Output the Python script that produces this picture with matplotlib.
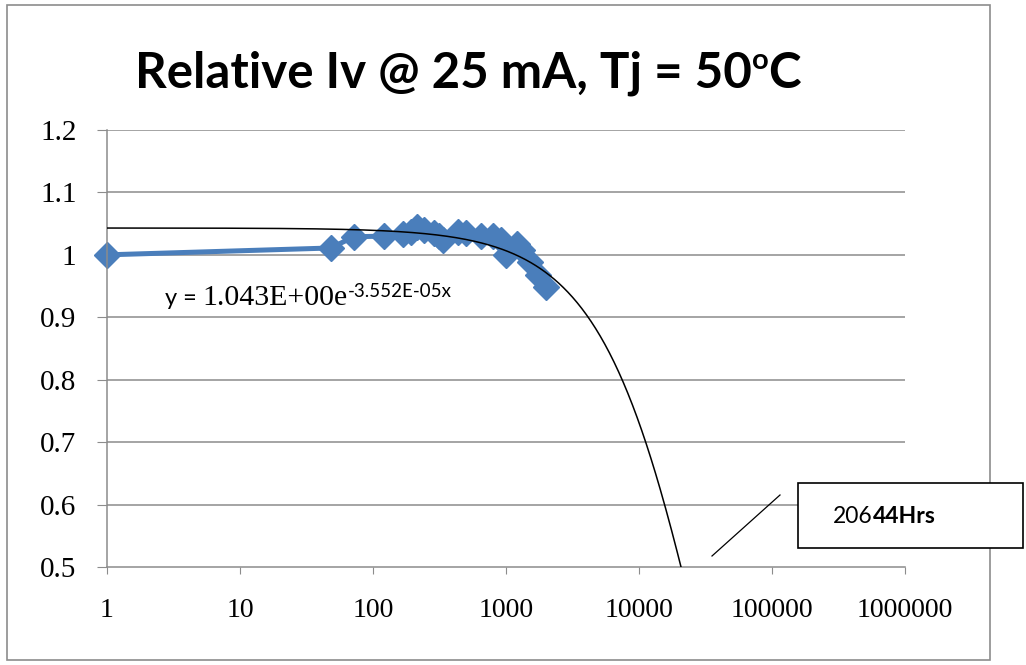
import numpy as np
import matplotlib
matplotlib.use("Agg")
from matplotlib import pyplot as plt
from matplotlib.transforms import IdentityTransform
from matplotlib.patches import Rectangle

# test data
hours = [1, 48, 72, 120, 168, 192, 216, 240, 288, 312, 336, 432, 504, 648,
         792, 912, 1008, 1200, 1320, 1512, 1752, 2016]
rel_iv = [1.000, 1.011, 1.029, 1.030, 1.034, 1.037, 1.044, 1.040, 1.035, 1.030,
          1.024, 1.037, 1.035, 1.031, 1.030, 1.024, 1.000, 1.018, 1.008, 0.989,
          0.968, 0.949]

# exponential trend as printed on the chart
fit_a = 1.043
fit_b = -3.552e-05
l70_hours = 20644

x_ticks = [1, 10, 100, 1000, 10000, 100000, 1000000]
x_labels = ["1", "10", "100", "1000", "10000", "100000", "1000000"]
y_ticks = [0.5, 0.6, 0.7, 0.8, 0.9, 1.0, 1.1, 1.2]
y_labels = ["0.5", "0.6", "0.7", "0.8", "0.9", "1", "1.1", "1.2"]

blue = "#4A7EBB"
grey = "#8C8C8C"

fig = plt.figure(figsize=(10.26, 6.65), dpi=100)
fig.patches.append(Rectangle((7, 5), 983, 655, transform=IdentityTransform(),
                             fill=False, edgecolor=grey, lw=1.2))

ax = fig.add_axes([107 / 1026, 1 - 567 / 665, (905 - 107) / 1026, (567 - 130) / 665])
ax.set_xscale("log")
ax.set_xlim(1, 1e6)
ax.set_ylim(0.5, 1.2)

for yv in y_ticks[1:]:
    ax.axhline(yv, color=grey, lw=1.1, zorder=0)

xs = np.logspace(0, np.log10(l70_hours * 1.02), 500)
ax.plot(xs, fit_a * np.exp(fit_b * xs), color="black", lw=1.1, zorder=3)
ax.plot(hours, rel_iv, color=blue, lw=3.6, marker="D", markersize=13,
        markeredgecolor=blue, zorder=2, clip_on=False)

ax.set_xticks(x_ticks)
ax.set_xticklabels(x_labels)
ax.minorticks_off()
ax.set_yticks(y_ticks)
ax.set_yticklabels(y_labels)
for s in ["top", "right"]:
    ax.spines[s].set_visible(False)
for s in ["left", "bottom"]:
    ax.spines[s].set_color(grey)
    ax.spines[s].set_linewidth(1.1)
ax.tick_params(axis="y", direction="out", length=7, color=grey, pad=15,
               labelsize=21)
ax.tick_params(axis="x", direction="out", length=5, color=grey, pad=17,
               labelsize=20)
for lab in ax.get_xticklabels() + ax.get_yticklabels():
    lab.set_family("Liberation Serif")

fig.canvas.draw()
renderer = fig.canvas.get_renderer()


def put_runs(x, y, runs):
    # place text pieces one after another, pixel coords from bottom-left
    for text, props, dy in runs:
        t = fig.text(x, y + dy, text, transform=IdentityTransform(),
                     va="baseline", ha="left", **props)
        x = t.get_window_extent(renderer).x1


H = 665
title_font = dict(family="Lato", weight="bold", size=35.5)
put_runs(135, H - 88, [
    ("Relative Iv @ 25 mA, Tj = 50", title_font, 0),
    ("o", dict(family="Lato", weight="bold", size=21), 19),
    ("C", title_font, 0),
])

put_runs(165, H - 305, [
    ("y = ", dict(family="Lato", size=17), 0),
    ("1.043E+00e", dict(family="Liberation Serif", size=21.5), 0),
    ("-3.552E-05x", dict(family="Lato", size=13.5), 8),
])

# callout box with the L70 lifetime
fig.patches.append(Rectangle((798, H - 548), 225, 65, transform=IdentityTransform(),
                             fill=True, facecolor="white", edgecolor="black", lw=1.2))
fig.lines.append(plt.Line2D([712, 780], [H - 556, H - 495], transform=IdentityTransform(),
                            color="black", lw=0.9))
put_runs(833, H - 523, [
    ("206", dict(family="Lato", size=16.5), 0),
    ("44Hrs", dict(family="Lato", size=16.5, weight="bold"), 0),
])

fig.savefig("out.png", dpi=100)
